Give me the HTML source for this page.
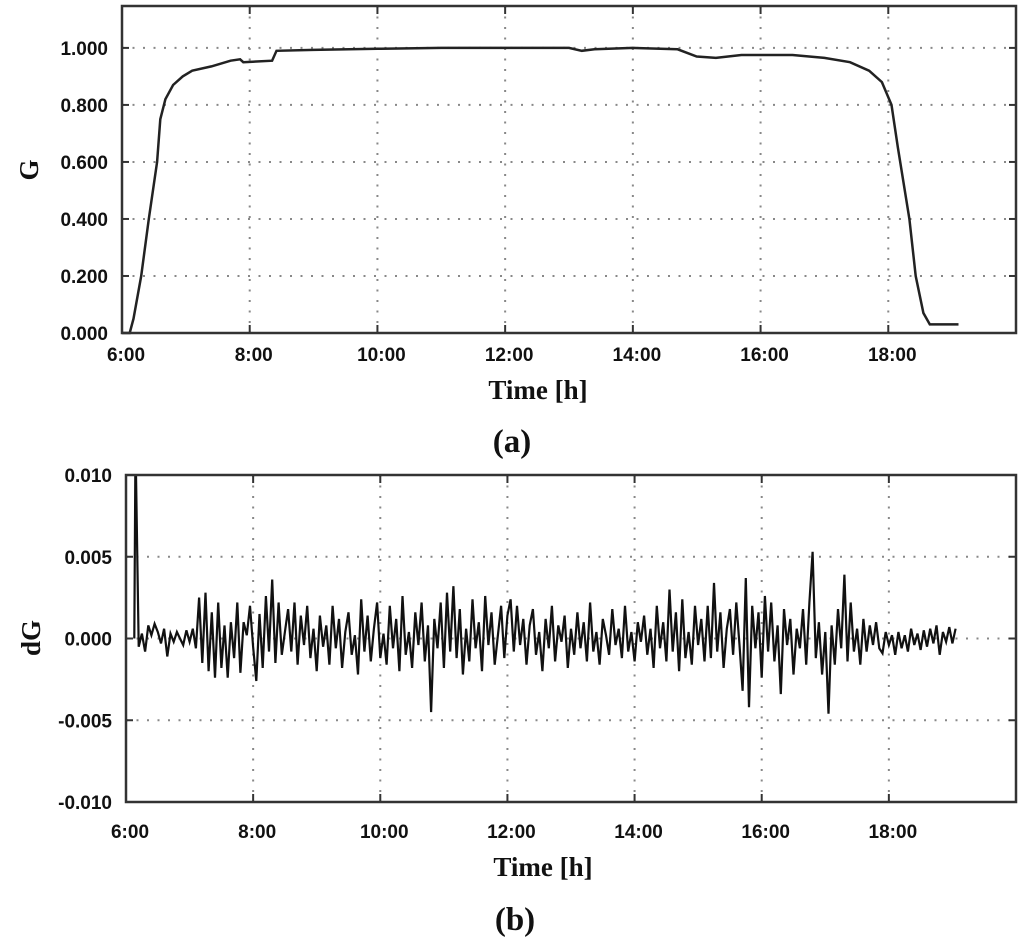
<!DOCTYPE html>
<html><head><meta charset="utf-8"><style>
body{margin:0;background:#fff;width:1024px;height:943px;overflow:hidden}
text{font-family:"Liberation Sans",Arial,sans-serif}
.tk{font-size:19px;font-weight:bold;fill:#111}
.ti{font-family:"Liberation Serif",serif;font-weight:bold;font-size:27px;fill:#111}
</style></head><body>
<svg id="svg" width="1024" height="943" xmlns="http://www.w3.org/2000/svg"></svg>
<script>
const gTimes=[6.0,6.12,6.18,6.3,6.42,6.55,6.6,6.68,6.8,6.95,7.1,7.4,7.7,7.85,7.9,8.35,8.42,9,10,11,12,13,13.2,13.4,14,14.7,15,15.3,15.7,16.5,17,17.4,17.7,17.9,18.05,18.15,18.33,18.43,18.55,18.65,19.1];
const gValues=[0,0,0.05,0.2,0.4,0.6,0.75,0.82,0.87,0.9,0.92,0.935,0.955,0.96,0.95,0.955,0.99,0.993,0.997,1.0,1.0,1.0,0.99,0.995,1.0,0.995,0.97,0.965,0.975,0.975,0.965,0.95,0.92,0.88,0.8,0.65,0.4,0.2,0.07,0.03,0.03];
const dgStart=6.15, dgStep=0.05;
const dgValues=[12,-0.5,0.3,-0.8,0.8,0.2,0.9,0.4,-0.3,0.6,-1.1,0.3,-0.2,0.4,0,-0.4,0.5,-0.2,0.6,-0.6,
2.5,-1.5,2.8,-2.0,1.6,-2.4,2.2,-1.8,0.8,-2.4,1.0,-1.2,2.2,-2.1,1.0,0.2,2.0,-0.5,-2.6,1.5,
-1.8,2.6,-0.8,3.6,-1.5,2.2,-1.0,0.4,1.8,-0.8,2.2,-1.6,1.4,-0.4,2.0,-1.2,0.6,-2.0,1.4,-0.5,
0.8,-1.6,2.0,-0.6,1.2,-1.8,0.4,1.6,-1.0,0.2,-2.2,2.4,-0.8,1.4,-1.4,0.6,2.2,-1.2,0.3,-1.6,
2.0,-0.6,1.2,-2.0,2.6,-1.0,0.4,-1.8,1.6,-0.4,2.2,-1.4,0.8,-4.5,1.2,-0.6,2.2,-1.8,2.8,-0.8,
3.2,-1.2,1.8,-2.2,0.6,-1.4,2.4,-0.6,1.0,-2.0,2.6,-0.4,1.6,-1.6,0.2,2.0,-1.2,1.4,2.4,-0.8,
2.0,-0.4,1.2,-1.6,0.8,1.8,-1.0,0.4,-2.0,1.2,-0.6,2.0,-1.4,0.8,-0.2,1.4,-1.8,0.6,-1.0,1.6,
-0.6,1.0,-1.4,2.2,-0.8,0.4,-1.6,1.2,0.2,-1.0,1.8,-0.4,0.6,-1.2,2.0,-0.8,0.4,-1.4,1.0,-0.2,
1.4,-1.0,0.6,-1.8,2.0,-0.6,1.0,-1.4,3.0,-0.8,1.6,-2.0,2.4,-1.2,0.4,-1.6,2.0,-0.4,1.2,-1.4,
2.0,-1.2,3.4,-0.8,1.6,-1.8,0.6,1.8,-1.0,2.2,-0.4,-3.2,3.7,-4.2,2.0,-0.6,1.6,-2.4,2.6,-0.8,
2.2,-1.4,0.8,-3.4,1.8,-0.4,1.2,-2.2,0.6,-0.6,1.8,-1.6,2.2,5.3,-1.2,1.0,-2.2,0.4,-4.6,0.8,
-1.6,1.8,-0.6,3.9,-1.4,2.2,-0.8,0.6,-1.6,1.2,-0.8,0.8,-0.4,1.0,-0.6,-0.9,0.4,-0.4,0.2,-1.0,
0.4,-0.6,0.2,-0.8,0.6,-0.4,0.3,-0.7,0.5,-0.5,0.6,-0.3,0.8,-1.0,0.4,-0.2,0.7,-0.3,0.6];
const xTickHours=[6,8,10,12,14,16,18];
const xTickLabels=["6:00","8:00","10:00","12:00","14:00","16:00","18:00"];
const gTicks=[0,0.2,0.4,0.6,0.8,1.0];
const gTickLabels=["0.000","0.200","0.400","0.600","0.800","1.000"];
const dgTicks=[-0.010,-0.005,0,0.005,0.010];
const dgTickLabels=["-0.010","-0.005","0.000","0.005","0.010"];

const svg=document.getElementById('svg');
const NS="http://www.w3.org/2000/svg";
function mk(tag,attrs,txt){const e=document.createElementNS(NS,tag);for(const k in attrs)e.setAttribute(k,attrs[k]);if(txt!==undefined)e.textContent=txt;svg.appendChild(e);return e;}

function panel(p){
  const X=h=>p.l+(h-6)/14*(p.r-p.l);
  const Y=v=>p.b-(v-p.ymin)/(p.ymax-p.ymin)*(p.b-p.t);
  p.yt.forEach((v,i)=>{
    const y=Y(v);
    if(v!==p.ymax&&v!==p.ymin){
      const g=mk('line',{x1:p.l,x2:p.r,y1:y,y2:y,stroke:'#888','stroke-width':2,'stroke-dasharray':'2 8.5'});
      
      
    }
    mk('line',{x1:p.l,x2:p.l+7,y1:y,y2:y,stroke:'#333','stroke-width':2});
    mk('line',{x1:p.r-7,x2:p.r,y1:y,y2:y,stroke:'#333','stroke-width':2});
    const t=mk('text',{x:p.l-14,y:y+7,'text-anchor':'end',class:'tk'},p.ytl[i]);
    
    
  });
  xTickHours.forEach((h,i)=>{
    const x=X(h);
    if(h!==6){
      const g=mk('line',{x1:x,x2:x,y1:p.t,y2:p.b,stroke:'#888','stroke-width':2,'stroke-dasharray':'2 8.5'});
      
      
    }
    mk('line',{x1:x,x2:x,y1:p.b-8,y2:p.b,stroke:'#333','stroke-width':2});
    mk('line',{x1:x,x2:x,y1:p.t,y2:p.t+8,stroke:'#333','stroke-width':2});
    const t=mk('text',{x:x+4,y:p.b+p.xo,'text-anchor':'middle',class:'tk'},xTickLabels[i]);
    
    
  });
  return {X,Y};
}

// panel a
const pa={l:122,r:1016,t:6,b:333,ymin:0,ymax:1.147,yt:gTicks,ytl:gTickLabels,xo:28};
const A=panel(pa);
let d=gTimes.map((h,i)=>(i?'L':'M')+A.X(h).toFixed(1)+','+A.Y(gValues[i]).toFixed(1)).join('');
const la=mk('path',{d:d,fill:'none',stroke:'#222','stroke-width':2.5});


const fa=mk('rect',{x:pa.l,y:pa.t,width:pa.r-pa.l,height:pa.b-pa.t,fill:'none',stroke:'#333','stroke-width':2.5});



// panel b
const pb={l:126,r:1016,t:475,b:802,ymin:-0.010,ymax:0.010,yt:dgTicks,ytl:dgTickLabels,xo:36};
const B=panel(pb);
const cp=mk('clipPath',{id:'cb'});
const cr=document.createElementNS(NS,'rect');
cr.setAttribute('x',pb.l);cr.setAttribute('y',pb.t);cr.setAttribute('width',pb.r-pb.l);cr.setAttribute('height',pb.b-pb.t);
cp.appendChild(cr);
let d2='M'+B.X(dgStart-0.02).toFixed(1)+','+B.Y(0).toFixed(1);
dgValues.forEach((v,i)=>{d2+='L'+B.X(dgStart+i*dgStep).toFixed(1)+','+B.Y(v*0.001).toFixed(1);});
const lb=mk('path',{d:d2,fill:'none',stroke:'#111','stroke-width':2.2,'clip-path':'url(#cb)'});


const fb=mk('rect',{x:pb.l,y:pb.t,width:pb.r-pb.l,height:pb.b-pb.t,fill:'none',stroke:'#333','stroke-width':2.5});



// titles
let t;
t=mk('text',{x:538,y:399,'text-anchor':'middle',class:'ti'},'Time [h]');


t=mk('text',{x:512,y:452,'text-anchor':'middle',class:'ti',style:'font-size:33px'},'(a)');


t=mk('text',{x:0,y:0,'text-anchor':'middle',class:'ti',transform:'translate(38,170) rotate(-90)'},'G');


t=mk('text',{x:543,y:876,'text-anchor':'middle',class:'ti'},'Time [h]');


t=mk('text',{x:515,y:930,'text-anchor':'middle',class:'ti',style:'font-size:33px'},'(b)');


t=mk('text',{x:0,y:0,'text-anchor':'middle',class:'ti',transform:'translate(40,638) rotate(-90)'},'dG');


</script>
</body></html>
